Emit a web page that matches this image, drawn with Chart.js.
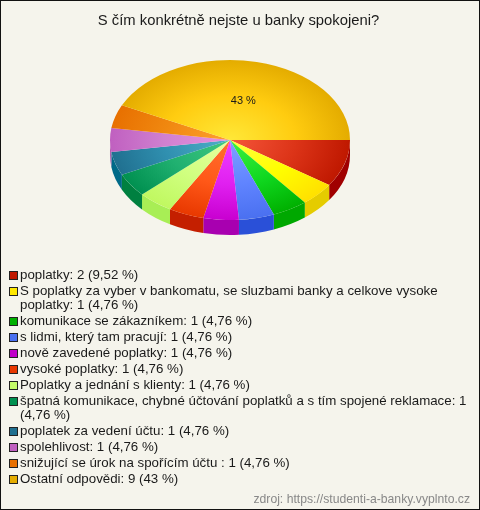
<!DOCTYPE html>
<html lang="cs">
<head>
<meta charset="utf-8">
<title>S čím konkrétně nejste u banky spokojeni?</title>
<script src="https://cdn.jsdelivr.net/npm/chart.js@4"></script>
<style>
    html, body { margin: 0; padding: 0; background: #f5f4ec; }
    #box { position: relative; width: 478px; height: 508px; border: 1px solid #111; overflow: hidden; font-family: "Liberation Sans", Arial, sans-serif; color: #1a1a1a; }
    #chart { position: absolute; left: -1px; top: -1px; }
    #title { position: absolute; left: 0; top: 9px; width: 475px; text-align: center; font-size: 14.8px; line-height: 20px; }
    #legend { position: absolute; left: 8px; top: 267px; width: 464px; font-size: 13.3px; line-height: 14px; }
    #legend div { position: relative; padding-left: 11px; margin-bottom: 2px; }
    #legend i { position: absolute; left: 0; top: 3px; width: 7px; height: 7px; border: 1px solid #222; }
    #source { position: absolute; right: 9px; bottom: 3px; font-size: 12.2px; color: #888; }
</style>
</head>
<body>
<div id="box">
    <canvas id="chart" width="480" height="510"></canvas>
    <div id="title"></div>
    <div id="legend"></div>
    <div id="source">zdroj: https://studenti-a-banky.vyplnto.cz</div>
</div>
<script>
const chartTitle = 'S čím konkrétně nejste u banky spokojeni?';
const categories = [
    'poplatky', 'S poplatky za vyber v bankomatu, se sluzbami banky a celkove vysoke poplatky',
    'komunikace se zákazníkem', 's lidmi, který tam pracují', 'nově zavedené poplatky', 'vysoké poplatky',
    'Poplatky a jednání s klienty', 'špatná komunikace, chybné účtování poplatků a s tím spojené reklamace',
    'poplatek za vedení účtu', 'spolehlivost', 'snižující se úrok na spořícím účtu ', 'Ostatní odpovědi'
];
const counts = [2, 1, 1, 1, 1, 1, 1, 1, 1, 1, 1, 9];
const shares = ['9,52', '4,76', '4,76', '4,76', '4,76', '4,76', '4,76', '4,76', '4,76', '4,76', '4,76', '43'];

// top face gradient: centre, middle, rim
const faceInner = ['#f5553a', '#ffff40', '#40f040', '#80a0ff', '#f040ff', '#ff7030', '#e8ffa0', '#40c880', '#50b0c8', '#e890e0', '#ffa030', '#ffe838'];
const faceMiddle = ['#dc3418', '#ffff00', '#10d820', '#6084ff', '#e020f0', '#ff5818', '#d0ff80', '#20b070', '#3090b0', '#d080d0', '#f08810', '#ffcc10'];
const faceOuter = ['#bf1800', '#ffe000', '#00b000', '#4a70f0', '#c800d0', '#e83800', '#c0f860', '#009050', '#207090', '#c060c0', '#e87000', '#e4ac00'];
const wallColors = ['#a00000', '#e5cc00', '#00a800', '#2a50d8', '#a800b0', '#c41f00', '#a8ee55', '#008040', '#006a88', '#b060b0', '#c86000', '#c89400'];
const legendColors = ['#c01800', '#ffe800', '#00b000', '#4a70f0', '#c000c8', '#e83800', '#c4fa68', '#009050', '#207090', '#c060c0', '#e87000', '#e4ac00'];

const SQUASH = 2 / 3;
const DEPTH = 15;

// pie is drawn by the library, then flattened and given a wall
const tiltPlugin = {
    id: 'tilt',
    beforeDatasetsDraw(chart) {
        const ctx = chart.ctx;
        const arcs = chart.getDatasetMeta(0).data;
        arcs.forEach((arc, i) => {
            const from = Math.max(arc.startAngle, 0);
            const to = Math.min(arc.endAngle, Math.PI);
            if (to <= from) return;
            const ry = arc.outerRadius * SQUASH;
            ctx.beginPath();
            ctx.ellipse(arc.x, arc.y + DEPTH, arc.outerRadius, ry, 0, from, to);
            ctx.ellipse(arc.x, arc.y, arc.outerRadius, ry, 0, to, from, true);
            ctx.closePath();
            ctx.fillStyle = wallColors[i];
            ctx.fill();
        });
        ctx.save();
        ctx.translate(arcs[0].x, arcs[0].y);
        ctx.scale(1, SQUASH);
        ctx.translate(-arcs[0].x, -arcs[0].y);
    },
    afterDatasetsDraw(chart) {
        const ctx = chart.ctx;
        ctx.restore();
        // only the big slice carries a label
        const last = chart.getDatasetMeta(0).data[counts.length - 1];
        const p = last.getCenterPoint();
        ctx.fillStyle = '#1a1a1a';
        ctx.font = '11px "Liberation Sans", Arial, sans-serif';
        ctx.textAlign = 'center';
        ctx.textBaseline = 'middle';
        ctx.fillText(shares[counts.length - 1] + ' %', p.x, last.y + (p.y - last.y) * SQUASH);
    }
};

function faceGradient(context) {
    const i = context.dataIndex;
    const area = context.chart.chartArea;
    if (!area) return faceMiddle[i];
    const x = (area.left + area.right) / 2;
    const y = (area.top + area.bottom) / 2;
    const r = Math.min(area.right - area.left, area.bottom - area.top) / 2;
    const g = context.chart.ctx.createRadialGradient(x, y, 0, x, y, r);
    g.addColorStop(0, faceInner[i]);
    g.addColorStop(0.55, faceMiddle[i]);
    g.addColorStop(1, faceOuter[i]);
    return g;
}

new Chart(document.getElementById('chart'), {
    type: 'pie',
    data: {
        labels: categories,
        datasets: [{
            data: counts,
            backgroundColor: faceGradient,
            borderWidth: 0
        }]
    },
    options: {
        responsive: false,
        animation: false,
        rotation: 90,
        layout: { padding: { left: 110, right: 130, top: 20, bottom: 250 } },
        events: [],
        plugins: {
            legend: { display: false },
            tooltip: { enabled: false }
        }
    },
    plugins: [tiltPlugin]
});

document.getElementById('title').textContent = chartTitle;

const legend = document.getElementById('legend');
categories.forEach((name, i) => {
    const row = document.createElement('div');
    const swatch = document.createElement('i');
    swatch.style.background = legendColors[i];
    row.appendChild(swatch);
    row.appendChild(document.createTextNode(name + ': ' + counts[i] + ' (' + shares[i] + ' %)'));
    legend.appendChild(row);
});
</script>
</body>
</html>
